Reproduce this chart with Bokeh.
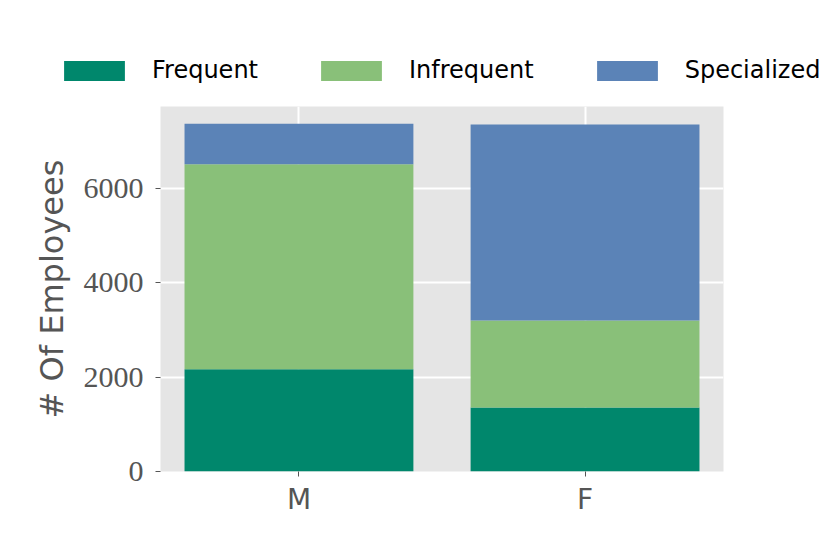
from bokeh.plotting import figure
from bokeh.layouts import column
from bokeh.models import (ColumnDataSource, FactorRange, Range1d, FixedTicker,
                          Legend, LegendItem)
from bokeh.embed import file_html
from bokeh.resources import INLINE

# ---- data ----
genders = ["M", "F"]
categories = ["Frequent", "Infrequent", "Specialized"]
frequent = [2165, 1354]
infrequent = [4340, 1842]
specialized = [854, 4148]
y_ticks = [0, 2000, 4000, 6000]
colors = ["#00876c", "#89c079", "#5b83b7"]

source = ColumnDataSource(dict(gender=genders, Frequent=frequent,
                               Infrequent=infrequent, Specialized=specialized))

# ---- main chart ----
p = figure(width=830, height=448, output_backend="svg", toolbar_location=None,
           x_range=FactorRange(*genders, range_padding=-0.016,
                               range_padding_units="absolute"),
           y_range=Range1d(0, 7725),
           min_border_left=160, min_border_right=107,
           min_border_top=0, min_border_bottom=83)
p.frame_align = False

p.background_fill_color = "#e5e5e5"
p.border_fill_color = "white"
p.outline_line_color = None

renderers = p.vbar_stack(categories, x="gender", width=0.8, source=source,
                         color=colors, line_color=None)

p.xgrid.grid_line_color = "white"
p.xgrid.grid_line_width = 2
p.ygrid.grid_line_color = "white"
p.ygrid.grid_line_width = 2
p.ygrid.ticker = FixedTicker(ticks=y_ticks)

p.yaxis.ticker = FixedTicker(ticks=y_ticks)
p.yaxis.axis_line_color = None
p.yaxis.major_tick_line_color = "#555555"
p.yaxis.major_tick_out = 5
p.yaxis.major_tick_in = 0
p.yaxis.minor_tick_line_color = None
p.yaxis.major_label_text_font = "Liberation Serif"
p.yaxis.major_label_text_font_size = "30px"
p.yaxis.major_label_text_color = "#555555"
p.yaxis.major_label_standoff = 12
p.yaxis.axis_label = "# Of Employees"
p.yaxis.axis_label_text_font = "DejaVu Sans"
p.yaxis.axis_label_text_font_size = "32px"
p.yaxis.axis_label_text_font_style = "normal"
p.yaxis.axis_label_text_color = "#555555"
p.yaxis.axis_label_standoff = 10

p.xaxis.axis_line_color = None
p.xaxis.major_tick_line_color = "#555555"
p.xaxis.major_tick_out = 5
p.xaxis.major_tick_in = 0
p.xaxis.minor_tick_line_color = None
p.xaxis.major_label_text_font = "DejaVu Sans"
p.xaxis.major_label_text_font_size = "28px"
p.xaxis.major_label_text_color = "#555555"
p.xaxis.major_label_standoff = 6

# ---- legend strip above the chart ----
lg = figure(width=830, height=106, output_backend="svg", toolbar_location=None,
            x_range=FactorRange(*genders), y_range=Range1d(0, 1),
            x_axis_type=None, y_axis_type=None,
            min_border_left=0, min_border_right=0,
            min_border_top=0, min_border_bottom=0)
lg.frame_align = False
lg.outline_line_color = None
lg.background_fill_color = "white"
lg.border_fill_color = "white"
lg.xgrid.visible = False
lg.ygrid.visible = False
lg_renderers = lg.vbar_stack(categories, x="gender", width=0.8, source=source,
                             color=colors, line_color=None)
for r in lg_renderers:
    r.visible = False

items = [LegendItem(label=c, renderers=[r]) for c, r in zip(categories, lg_renderers)]
legend = Legend(items=items, orientation="horizontal", location=(56, 22),
                padding=0, margin=0, spacing=55, label_standoff=20,
                glyph_width=76, glyph_height=25, label_height=20,
                label_text_font="DejaVu Sans", label_text_font_size="24px",
                label_text_color="black", border_line_color=None,
                background_fill_alpha=0, inactive_fill_alpha=0)
lg.add_layout(legend, "center")

layout = column(lg, p, spacing=0)
open("out.html", "w").write(file_html(layout, INLINE))
